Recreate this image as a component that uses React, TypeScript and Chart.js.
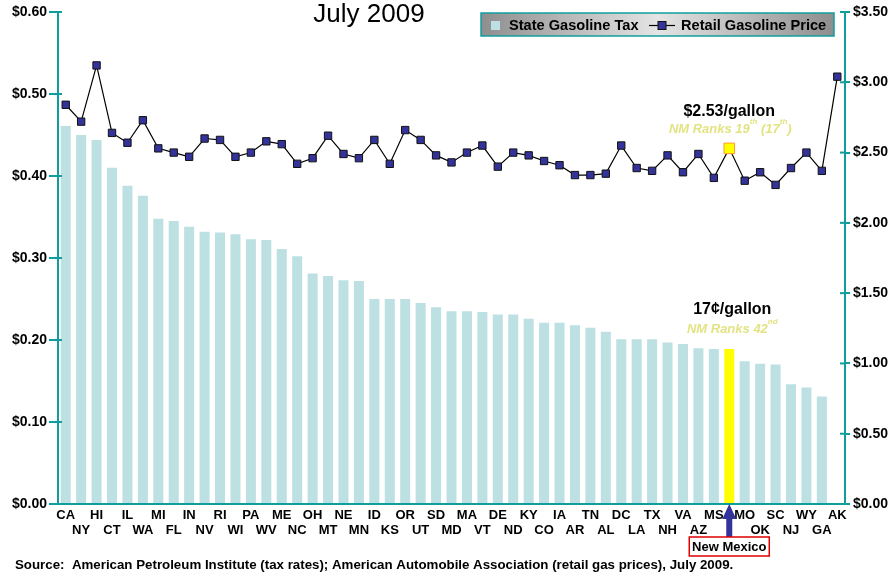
import React, { useEffect, useRef } from "react";
import { Chart, registerables } from "chart.js";

Chart.register(...registerables);

const states = ["CA","NY","HI","CT","IL","WA","MI","FL","IN","NV","RI","WI","PA","WV","ME","NC","OH","MT","NE","MN","ID","KS","OR","UT","SD","MD","MA","VT","DE","ND","KY","CO","IA","AR","TN","AL","DC","LA","TX","NH","VA","AZ","MS","NM","MO","OK","SC","NJ","WY","GA","AK"];

const stateTax = [0.461,0.450,0.444,0.410,0.388,0.376,0.348,0.345,0.338,0.332,0.331,0.329,0.323,0.322,0.311,0.302,0.281,0.278,0.273,0.272,0.250,0.250,0.250,0.245,0.240,0.235,0.235,0.234,0.231,0.231,0.226,0.221,0.221,0.218,0.215,0.210,0.201,0.201,0.201,0.197,0.195,0.190,0.189,0.189,0.174,0.171,0.170,0.146,0.142,0.131,0.0];

const retailPrice = [2.84,2.72,3.12,2.64,2.57,2.73,2.53,2.50,2.47,2.60,2.59,2.47,2.50,2.58,2.56,2.42,2.46,2.62,2.49,2.46,2.59,2.42,2.66,2.59,2.48,2.43,2.50,2.55,2.40,2.50,2.48,2.44,2.41,2.34,2.34,2.35,2.55,2.39,2.37,2.48,2.36,2.49,2.32,2.53,2.30,2.36,2.27,2.39,2.50,2.37,3.04];

const taxTicks = [0, 0.1, 0.2, 0.3, 0.4, 0.5, 0.6];
const priceTicks = [0, 0.5, 1, 1.5, 2, 2.5, 3, 3.5];

const NM_INDEX = 43;
const FONT = "'Liberation Sans', Arial, Helvetica, sans-serif";
const TEAL = "#0f9e9e";
const BAR = "#bde0e3";
const NAVY = "#333399";
const KHAKI = "#e3e384";

function drawSegments(ctx: CanvasRenderingContext2D, cx: number, cy: number, segs: { t: string; sup?: boolean }[], size: number, style: string, color: string) {
  const main = `${style} ${size}px ${FONT}`;
  const small = `${style} ${Math.round(size * 0.62)}px ${FONT}`;
  let total = 0;
  for (const s of segs) {
    ctx.font = s.sup ? small : main;
    total += ctx.measureText(s.t).width;
  }
  let x = cx - total / 2;
  ctx.fillStyle = color;
  ctx.textAlign = "left";
  ctx.textBaseline = "alphabetic";
  for (const s of segs) {
    ctx.font = s.sup ? small : main;
    ctx.fillText(s.t, x, s.sup ? cy - size * 0.3 : cy + size * 0.35);
    x += ctx.measureText(s.t).width;
  }
}

const overlay = {
  id: "overlay",
  afterDraw(chart: any) {
    const ctx: CanvasRenderingContext2D = chart.ctx;
    const { chartArea } = chart;
    const xS = chart.scales.x;
    const yS = chart.scales.y;
    const y1S = chart.scales.y1;
    ctx.save();

    // inner tick marks
    ctx.strokeStyle = TEAL;
    ctx.lineWidth = 2;
    for (const v of taxTicks) {
      const py = yS.getPixelForValue(v);
      ctx.beginPath();
      ctx.moveTo(chartArea.left, py);
      ctx.lineTo(chartArea.left + 4, py);
      ctx.stroke();
    }
    for (const v of priceTicks) {
      const py = y1S.getPixelForValue(v);
      ctx.beginPath();
      ctx.moveTo(chartArea.right - 5, py);
      ctx.lineTo(chartArea.right, py);
      ctx.stroke();
    }

    // title
    ctx.fillStyle = "#000";
    ctx.font = `26px ${FONT}`;
    ctx.textAlign = "center";
    ctx.textBaseline = "middle";
    ctx.fillText("July 2009", 369, 15);

    // legend
    const lx = 481, ly = 13, lw = 353, lh = 23;
    const g = ctx.createLinearGradient(lx, 0, lx + lw, 0);
    g.addColorStop(0, "#8e8e8e");
    g.addColorStop(0.5, "#e4e4e4");
    g.addColorStop(1, "#8e8e8e");
    ctx.fillStyle = g;
    ctx.fillRect(lx, ly, lw, lh);
    ctx.strokeStyle = TEAL;
    ctx.lineWidth = 1.5;
    ctx.strokeRect(lx, ly, lw, lh);
    ctx.fillStyle = BAR;
    ctx.fillRect(491, 21, 9, 9);
    ctx.fillStyle = "#000";
    ctx.font = `bold 14.6px ${FONT}`;
    ctx.textAlign = "left";
    ctx.textBaseline = "middle";
    ctx.fillText("State Gasoline Tax", 509, 26);
    ctx.strokeStyle = "#000";
    ctx.lineWidth = 1.2;
    ctx.beginPath();
    ctx.moveTo(649, 25.5);
    ctx.lineTo(675, 25.5);
    ctx.stroke();
    ctx.fillStyle = NAVY;
    ctx.fillRect(658, 21.5, 8, 8);
    ctx.strokeStyle = "#111";
    ctx.lineWidth = 1;
    ctx.strokeRect(658, 21.5, 8, 8);
    ctx.fillStyle = "#000";
    ctx.fillText("Retail Gasoline Price", 681, 26);

    // annotations
    const nx = xS.getPixelForValue(NM_INDEX);
    drawSegments(ctx, nx, 110, [{ t: "$2.53/gallon" }], 16, "bold", "#000");
    drawSegments(ctx, nx + 1, 128, [{ t: "NM Ranks 19" }, { t: "th", sup: true }, { t: " (17" }, { t: "th", sup: true }, { t: ")" }], 13, "italic bold", KHAKI);
    drawSegments(ctx, nx + 3, 308, [{ t: "17¢/gallon" }], 16, "bold", "#000");
    drawSegments(ctx, nx + 3, 328, [{ t: "NM Ranks 42" }, { t: "nd", sup: true }], 13, "italic bold", KHAKI);

    // arrow
    const ab = chartArea.bottom;
    ctx.fillStyle = NAVY;
    ctx.beginPath();
    ctx.moveTo(nx, ab);
    ctx.lineTo(nx + 7, ab + 15);
    ctx.lineTo(nx + 3, ab + 15);
    ctx.lineTo(nx + 3, ab + 34);
    ctx.lineTo(nx - 3, ab + 34);
    ctx.lineTo(nx - 3, ab + 15);
    ctx.lineTo(nx - 7, ab + 15);
    ctx.closePath();
    ctx.fill();

    // New Mexico box
    ctx.fillStyle = "#fff";
    ctx.fillRect(nx - 40, 537, 80, 19);
    ctx.strokeStyle = "#e00000";
    ctx.lineWidth = 1.5;
    ctx.strokeRect(nx - 40, 537, 80, 19);
    ctx.fillStyle = "#000";
    ctx.font = `bold 13px ${FONT}`;
    ctx.textAlign = "center";
    ctx.textBaseline = "middle";
    ctx.fillText("New Mexico", nx, 547);

    // source
    ctx.font = `bold 13.3px ${FONT}`;
    ctx.textAlign = "left";
    ctx.fillText("Source:  American Petroleum Institute (tax rates); American Automobile Association (retail gas prices), July 2009.", 15, 565);

    ctx.restore();
  },
};

export default function App() {
  const ref = useRef<HTMLCanvasElement | null>(null);

  useEffect(() => {
    if (!ref.current) return;
    const barColors = states.map((_, i) => (i === NM_INDEX ? "#ffff00" : BAR));
    const ptBg = states.map((_, i) => (i === NM_INDEX ? "#ffff00" : NAVY));
    const ptBorder = states.map((_, i) => (i === NM_INDEX ? "#ff9933" : "#111"));
    const ptRadius = states.map((_, i) => (i === NM_INDEX ? 7.5 : 5.2));

    const chart = new Chart(ref.current, {
      type: "bar",
      data: {
        labels: states,
        datasets: [
          {
            type: "line",
            label: "Retail Gasoline Price",
            data: retailPrice,
            yAxisID: "y1",
            borderColor: "#000",
            borderWidth: 1.2,
            pointStyle: "rect",
            pointRadius: ptRadius,
            pointBackgroundColor: ptBg,
            pointBorderColor: ptBorder,
            pointBorderWidth: 1,
            tension: 0,
            order: 0,
          } as any,
          {
            type: "bar",
            label: "State Gasoline Tax",
            data: stateTax,
            yAxisID: "y",
            backgroundColor: barColors,
            barPercentage: 0.65,
            categoryPercentage: 1,
            order: 1,
          },
        ],
      },
      options: {
        animation: false,
        responsive: true,
        maintainAspectRatio: false,
        layout: { padding: { top: 12, left: 0, right: 0, bottom: 0 } },
        plugins: {
          legend: { display: false },
          tooltip: { enabled: false },
          title: { display: false },
        },
        scales: {
          x: {
            offset: true,
            grid: { display: false },
            border: { display: true, color: TEAL, width: 2 },
            afterFit: (s: any) => { s.height = 74; },
            ticks: {
              autoSkip: false,
              maxRotation: 0,
              minRotation: 0,
              padding: -4,
              color: "#000",
              font: { family: FONT, size: 13, weight: "bold", lineHeight: 1.15 },
              callback: (_v: any, i: number) => {
                const lab = i === NM_INDEX ? "" : states[i];
                return i % 2 === 0 ? [lab, ""] : ["", lab];
              },
            },
          },
          y: {
            position: "left",
            min: 0,
            max: 0.6,
            afterFit: (s: any) => { s.width = 58; },
            afterBuildTicks: (s: any) => { s.ticks = taxTicks.map((v) => ({ value: v })); },
            grid: { display: true, drawOnChartArea: false, drawTicks: true, tickLength: 9, color: TEAL, lineWidth: 2 },
            border: { display: true, color: TEAL, width: 2 },
            ticks: {
              padding: 2,
              color: "#000",
              font: { family: FONT, size: 14, weight: "bold" },
              callback: (v: any) => "$" + Number(v).toFixed(2),
            },
          },
          y1: {
            position: "right",
            min: 0,
            max: 3.5,
            afterFit: (s: any) => { s.width = 45; },
            afterBuildTicks: (s: any) => { s.ticks = priceTicks.map((v) => ({ value: v })); },
            grid: { display: true, drawOnChartArea: false, drawTicks: true, tickLength: 5, color: TEAL, lineWidth: 2 },
            border: { display: true, color: TEAL, width: 2 },
            ticks: {
              padding: 3,
              color: "#000",
              font: { family: FONT, size: 14, weight: "bold" },
              callback: (v: any) => "$" + Number(v).toFixed(2),
            },
          },
        },
      },
      plugins: [overlay],
    });
    return () => chart.destroy();
  }, []);

  return (
    <div style={{ position: "fixed", left: 0, top: 0, width: 890, height: 578, background: "#fff" }}>
      <canvas ref={ref} />
    </div>
  );
}
